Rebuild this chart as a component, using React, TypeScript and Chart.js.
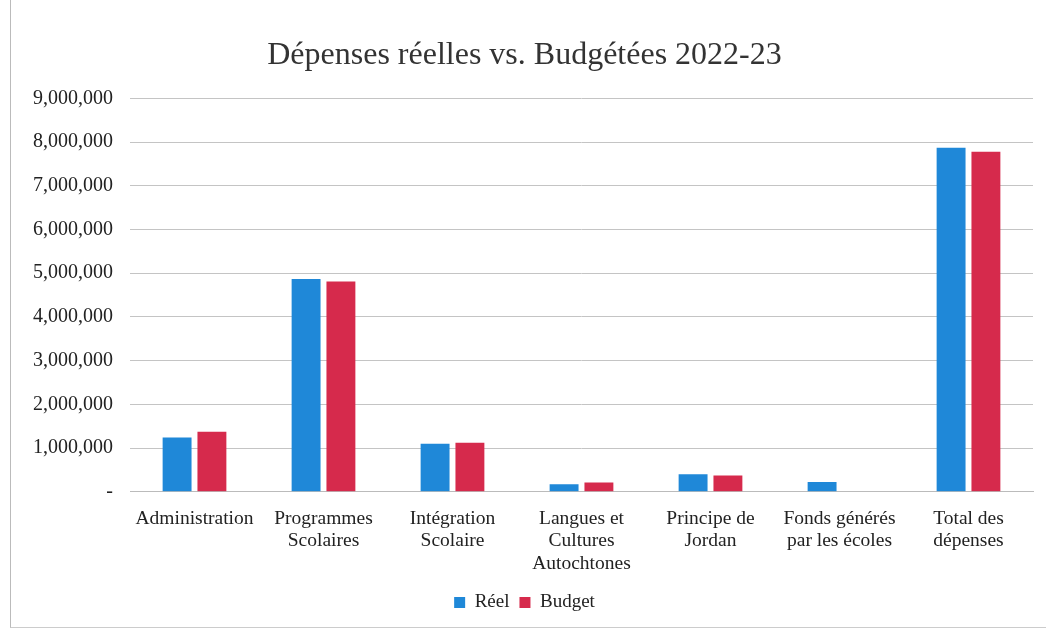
import React, { useEffect, useRef } from "react";
import { Chart, registerables } from "chart.js";

Chart.register(...registerables);

const categories: (string | string[])[] = [
  "Administration",
  ["Programmes", "Scolaires"],
  ["Intégration", "Scolaire"],
  ["Langues et", "Cultures", "Autochtones"],
  ["Principe de", "Jordan"],
  ["Fonds générés", "par les écoles"],
  ["Total des", "dépenses"],
];

const reel = [1240000, 4870000, 1100000, 170000, 400000, 220000, 7870000];
const budget = [1370000, 4810000, 1120000, 210000, 370000, 0, 7780000];

const yTicks = [0, 1000000, 2000000, 3000000, 4000000, 5000000, 6000000, 7000000, 8000000, 9000000];

const FONT = "'Liberation Serif', 'DejaVu Serif', serif";

export default function App() {
  const ref = useRef<HTMLCanvasElement>(null);

  useEffect(() => {
    document.body.style.margin = "0";
    const chart = new Chart(ref.current!, {
      type: "bar",
      data: {
        labels: categories,
        datasets: [
          { label: "Réel", data: reel, backgroundColor: "#1f88d8" },
          { label: "Budget", data: budget, backgroundColor: "#d62a4c" },
        ],
      },
      options: {
        animation: false,
        responsive: false,
        layout: { padding: { left: 16, right: 14, top: 12, bottom: 9 } },
        datasets: { bar: { categoryPercentage: 0.54, barPercentage: 0.83 } },
        plugins: {
          title: {
            display: true,
            text: "Dépenses réelles vs. Budgétées 2022-23",
            color: "#333",
            font: { family: FONT, size: 32, weight: "normal" },
            padding: { top: 24, bottom: 24 },
          },
          legend: {
            position: "bottom",
            labels: {
              color: "#222",
              font: { family: FONT, size: 19 },
              boxWidth: 11,
              boxHeight: 11,
              padding: 10,
            },
          },
          tooltip: { enabled: false },
        },
        scales: {
          x: {
            grid: { display: false },
            border: { display: true, color: "#bbb" },
            ticks: {
              color: "#222",
              font: { family: FONT, size: 19.5, lineHeight: 1.15 },
              maxRotation: 0,
              autoSkip: false,
              padding: 8,
            },
          },
          y: {
            min: 0,
            max: 9000000,
            afterBuildTicks: (axis: any) => {
              axis.ticks = yTicks.map((v) => ({ value: v }));
            },
            grid: { color: "#c4c4c4", drawTicks: false },
            border: { display: false },
            ticks: {
              color: "#222",
              font: { family: FONT, size: 20 },
              padding: 17,
              callback: (v: any) => (Number(v) === 0 ? "-" : Number(v).toLocaleString("en-US")),
            },
          },
        },
      },
    });
    return () => chart.destroy();
  }, []);

  return (
    <div style={{ width: 1047, height: 631, position: "relative", background: "#fff" }}>
      <div
        style={{
          position: "absolute",
          left: 10,
          top: 0,
          width: 1036,
          height: 628,
          borderLeft: "1px solid #bbb",
          borderBottom: "1px solid #ccc",
          boxSizing: "border-box",
        }}
      />
      <canvas ref={ref} width={1047} height={631} style={{ position: "absolute", left: 0, top: 0 }} />
    </div>
  );
}
